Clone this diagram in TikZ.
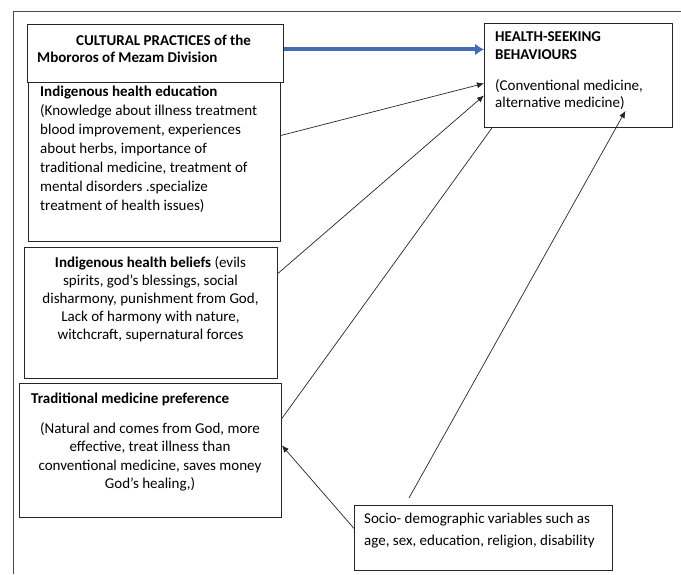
\documentclass[tikz,border=0pt]{standalone}
\usepackage{fontspec}
\setmainfont{Carlito}
\usetikzlibrary{positioning,arrows.meta}
\tikzset{>={Latex[length=7pt,width=6pt]}}
\definecolor{arrowblue}{RGB}{68,108,178}
\tikzset{
  box/.style={draw=black!85,line width=0.9pt,anchor=north west,inner sep=0pt},
  txt/.style={inner sep=0pt,font=\fontsize{15}{19}\selectfont},
  link/.style={draw=black!85,line width=0.7pt},
  bluelink/.style={draw=arrowblue,line width=4pt,-{Latex[length=9pt,width=12pt]}}
}

\begin{document}
\begin{tikzpicture}[x=1pt,y=-1pt]
  \useasboundingbox (0,0) rectangle (681,574);
  % frame
  \draw[black!70,line width=0.8pt] (13,574) -- (13,11) -- (681,11);

  % boxes
  \node[box,minimum width=252pt,minimum height=159pt] (edu) at (28,82) {};
  \node[box,minimum width=256pt,minimum height=58pt] (cult) at (27,24) {};
  \node[box,minimum width=253pt,minimum height=131pt] (beliefs) at (24,247) {};
  \node[box,minimum width=262pt,minimum height=134pt] (trad) at (19,383) {};
  \node[box,minimum width=188pt,minimum height=104pt] (health) at (484,23) {};
  \node[box,minimum width=258pt,minimum height=65pt] (socio) at (354,505) {};

  % texts (base = baseline of the last line)
  \node[txt,anchor=base west,align=left,font=\bfseries\fontsize{15}{17}\selectfont]
    (culttext) at ([shift={(10pt,-38pt)}]cult.north west)
    {\hspace*{39pt}CULTURAL PRACTICES of the\\Mbororos of Mezam Division};
  \node[txt,anchor=base west,align=left] (edutext) at ([shift={(12pt,-128pt)}]edu.north west)
    {\textbf{Indigenous health education}\\(Knowledge about illness treatment\\blood improvement, experiences\\about herbs, importance of\\traditional medicine, treatment of\\mental disorders .specialize\\treatment of health issues)};
  \node[txt,anchor=base west,align=left,font=\bfseries\fontsize{15}{18}\selectfont]
    (healthtitle) at ([shift={(11pt,-36pt)}]health.north west) {HEALTH-SEEKING\\BEHAVIOURS};
  \node[txt,anchor=base west,align=left,font=\fontsize{15}{17}\selectfont]
    (healthtext) at ([shift={(11pt,-84pt)}]health.north west) {(Conventional medicine,\\alternative medicine)};
  \node[txt,anchor=base,align=center,font=\fontsize{15}{18}\selectfont]
    (beliefstext) at ([shift={(126.5pt,-92pt)}]beliefs.north west)
    {\textbf{Indigenous health beliefs} (evils\\spirits, god's blessings, social\\disharmony, punishment from God,\\Lack of harmony with nature,\\witchcraft, supernatural forces};
  \node[txt,anchor=base west,font=\bfseries\fontsize{15}{18}\selectfont]
    (tradtitle) at ([shift={(12pt,-20pt)}]trad.north west) {Traditional medicine preference};
  \node[txt,anchor=base,align=center,font=\fontsize{15}{18.5}\selectfont]
    (tradtext) at ([shift={(131pt,-105.5pt)}]trad.north west)
    {(Natural and comes from God, more\\effective, treat illness than\\conventional medicine, saves money\\God's healing,)};
  \node[txt,anchor=base west,align=left,font=\fontsize{15}{22}\selectfont]
    (sociotext) at ([shift={(10pt,-40pt)}]socio.north west)
    {Socio- demographic variables such as\\age, sex, education, religion, disability};

  % connectors
  \draw[bluelink] ([yshift=4pt]cult.east) -- ([yshift=26pt]health.west);
  \draw[link,->] ([yshift=26.5pt]edu.east) -- ([yshift=-8pt]health.west);
  \draw[link,->] ([yshift=39.5pt]beliefs.east) -- ([yshift=-20pt]health.west);
  \draw[link] ([yshift=32pt]trad.east) -- ([xshift=8pt]health.south west);
  \draw[link,->] ([xshift=55pt,yshift=7pt]socio.north west) -- ([xshift=47pt,yshift=17pt]health.south);
  \draw[link,->] ([yshift=9.5pt]socio.west) -- ([yshift=5pt]trad.east);
\end{tikzpicture}
\end{document}
